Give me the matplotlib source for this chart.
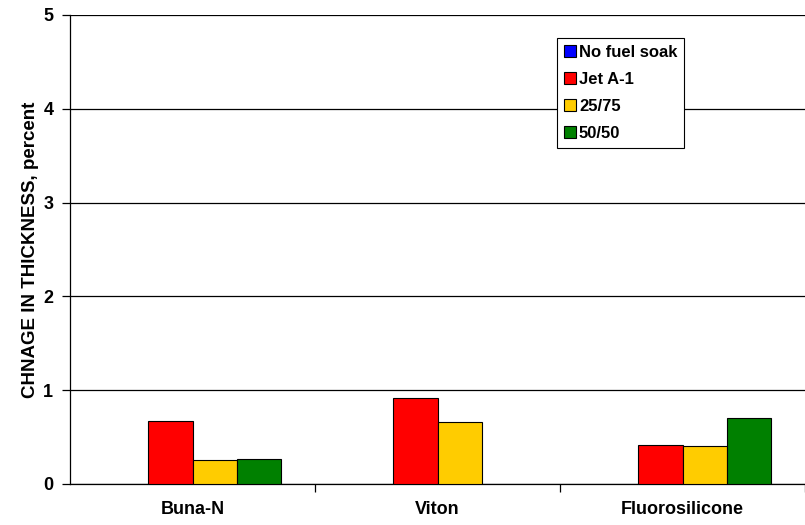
import numpy as np
import matplotlib.pyplot as plt
from matplotlib.patches import Patch

plt.rcParams['font.family'] = ['Liberation Sans', 'DejaVu Sans']
plt.rcParams['font.weight'] = 'bold'

materials = ['Buna-N', 'Viton', 'Fluorosilicone']
series = ['No fuel soak', 'Jet A-1', '25/75', '50/50']
no_soak = [0.0, 0.0, 0.0]
jet_a1 = [0.67, 0.92, 0.42]
blend_25_75 = [0.26, 0.66, 0.41]
blend_50_50 = [0.27, 0.0, 0.70]
colors = ['#0000FF', '#FF0000', '#FFCC00', '#008000']

values = [no_soak, jet_a1, blend_25_75, blend_50_50]

fig = plt.figure(figsize=(8.05, 5.25), dpi=100)
ax = fig.add_axes([70 / 805, 41 / 525, 735 / 805, 469 / 525])

x = np.arange(len(materials))
width = 0.18
handles = []
for i, (name, vals) in enumerate(zip(series, values)):
    pos = x + (i - 1.5) * width
    h = np.array(vals)
    # zero-height bars are not drawn (no visible mark in the original)
    ax.bar(pos[h > 0], h[h > 0], width, color=colors[i], edgecolor='black',
           linewidth=0.8, zorder=3)
    handles.append(Patch(facecolor=colors[i], edgecolor='black', linewidth=0.8, label=name))

ax.set_xlim(-0.5, len(materials) - 0.5)
ax.set_ylim(0, 5)
ax.set_yticks(range(6))
ax.yaxis.grid(True, color='black', linewidth=0.9, zorder=0)
ax.set_xticks(x)
ax.set_xticklabels(materials, fontsize=13, fontweight='bold')
ax.set_xticks(np.arange(len(materials)) + 0.5, minor=True)
ax.tick_params(axis='x', which='major', length=0, pad=12)
ax.tick_params(axis='x', which='minor', length=6, width=0.9, color='black')
ax.tick_params(axis='y', length=6, width=0.9, labelsize=13, pad=6)
for lab in ax.get_yticklabels():
    lab.set_fontweight('bold')

for s in ['top', 'right']:
    ax.spines[s].set_visible(False)
ax.spines['left'].set_linewidth(0.9)
ax.spines['bottom'].set_linewidth(0.9)

ax.set_ylabel('CHNAGE IN THICKNESS, percent', fontsize=13.5, fontweight='bold', labelpad=3)

leg = ax.legend(handles=handles, loc='upper left', bbox_to_anchor=(0.663, 0.951),
                borderaxespad=0, fancybox=False, edgecolor='black', framealpha=1,
                prop={'size': 12, 'weight': 'bold'}, handlelength=0.75,
                handleheight=0.75, handletextpad=0.15, labelspacing=0.73,
                borderpad=0.4)
leg.get_frame().set_linewidth(0.8)

fig.savefig('out.png', dpi=100)
